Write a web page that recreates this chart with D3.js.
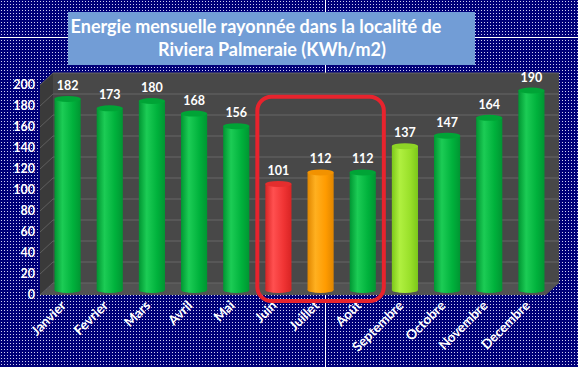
<!DOCTYPE html>
<html><head><meta charset="utf-8">
<script src="https://cdn.jsdelivr.net/npm/d3@7"></script>
<style>html,body{margin:0;padding:0;background:#000080;}svg{display:block;}</style>
</head><body>
<svg id="chart" width="578" height="367"></svg>
<script>
const months = ["Janvier","Fevrier","Mars","Avril","Mai","Juin","Juillet","Août","Septembre","Octobre","Novembre","Decembre"];
const energy = [182,173,180,168,156,101,112,112,137,147,164,190];
const barColors = ["green","green","green","green","green","red","orange","green","lime","green","green","green"];
const yTicks = [0,20,40,60,80,100,120,140,160,180,200];
const titleLines = ["Energie mensuelle rayonnée dans la localité de","Riviera Palmeraie (KWh/m2)"];
const highlighted = ["Juin","Juillet","Août"];

const W = 578, H = 367;
const svg = d3.select("#chart");
const defs = svg.append("defs");
const FONT = "Lato, 'Open Sans', sans-serif";

// background pattern
const pat = defs.append("pattern").attr("id","dots").attr("width",3).attr("height",3).attr("patternUnits","userSpaceOnUse");
pat.append("rect").attr("width",3).attr("height",3).attr("fill","#000078");
pat.append("rect").attr("x",1).attr("y",1).attr("width",1).attr("height",1).attr("fill","#d0d0f4");
svg.append("rect").attr("width",W).attr("height",H).attr("fill","url(#dots)");
svg.append("line").attr("x1",0).attr("x2",W).attr("y1",37.5).attr("y2",37.5).attr("stroke","#ffffff").attr("stroke-width",1);
svg.append("line").attr("x1",325.5).attr("x2",325.5).attr("y1",0).attr("y2",H).attr("stroke","#ffffff").attr("stroke-width",1);

// scales (mid-depth)
const x = d3.scaleBand().domain(months).range([46.5,552.5]).paddingInner(0.38).paddingOuter(0.19);
const y = d3.scaleLinear().domain([0,200]).range([290,80]);
const dBack = {dx:6.5, dy:-7}, dFront = {dx:-6.5, dy:5};
const x0 = 46.5, x1 = 552.5;

// walls
const g = svg.append("g");
const yb = v => y(v)+dBack.dy, yf = v => y(v)+dFront.dy;
const xbL = x0+dBack.dx, xbR = x1+dBack.dx, xfL = x0+dFront.dx, xfR = x1+dFront.dx;
g.append("rect").attr("x",xbL).attr("y",yb(200)).attr("width",xbR-xbL).attr("height",yb(0)-yb(200)).attr("fill","#484848");
g.append("path").attr("d",`M${xfL},${yf(200)}L${xbL},${yb(200)}L${xbL},${yb(0)}L${xfL},${yf(0)}Z`).attr("fill","#3a3a3a");
g.append("path").attr("d",`M${xfL},${yf(0)}L${xbL},${yb(0)}L${xbR},${yb(0)}L${xfR},${yf(0)}Z`).attr("fill","#525252");
yTicks.forEach(t=>{
  g.append("line").attr("x1",xbL).attr("x2",xbR).attr("y1",yb(t)).attr("y2",yb(t)).attr("stroke","#666").attr("stroke-width",1);
  g.append("line").attr("x1",xfL).attr("x2",xbL).attr("y1",yf(t)).attr("y2",yb(t)).attr("stroke","#5e5e5e").attr("stroke-width",1);
});

// y labels
g.selectAll(".ylab").data(yTicks).join("text").attr("class","ylab")
  .attr("x",35).attr("y",d=>yf(d)).attr("dy","0.35em").attr("text-anchor","end")
  .attr("fill","#fff").attr("font-family",FONT).attr("font-weight","bold").attr("font-size",12.5).text(d=>d);

// gradients
const palette = {
  green:{dark:"#009632",mid:"#00b23c",light:"#1ccc55",top:"#00a436"},
  red:{dark:"#d82424",mid:"#f03434",light:"#ff5050",top:"#e42e2e"},
  orange:{dark:"#e08600",mid:"#ff9b00",light:"#ffb020",top:"#f29200"},
  lime:{dark:"#7cc81a",mid:"#99e02a",light:"#b0f040",top:"#8ed426"}
};
Object.entries(palette).forEach(([k,c])=>{
  const lg = defs.append("linearGradient").attr("id","g_"+k).attr("x1","0%").attr("x2","100%");
  lg.append("stop").attr("offset","0%").attr("stop-color",c.dark);
  lg.append("stop").attr("offset","30%").attr("stop-color",c.light);
  lg.append("stop").attr("offset","70%").attr("stop-color",c.mid);
  lg.append("stop").attr("offset","100%").attr("stop-color",c.dark);
});

const bw = x.bandwidth(), ry = 3;
const bars = g.selectAll(".bar").data(months.map((m,i)=>({m,v:energy[i],c:barColors[i]}))).join("g");
bars.append("ellipse").attr("cx",d=>x(d.m)+bw/2).attr("cy",y(0)).attr("rx",bw/2).attr("ry",ry).attr("fill",d=>`url(#g_${d.c})`);
bars.append("rect").attr("x",d=>x(d.m)).attr("y",d=>y(d.v)).attr("width",bw).attr("height",d=>y(0)-y(d.v)).attr("fill",d=>`url(#g_${d.c})`);
bars.append("ellipse").attr("cx",d=>x(d.m)+bw/2).attr("cy",d=>y(d.v)).attr("rx",bw/2).attr("ry",ry).attr("fill",d=>palette[d.c].top);
bars.append("text").attr("x",d=>x(d.m)+bw/2).attr("y",d=>y(d.v)-9).attr("text-anchor","middle")
  .attr("fill","#fff").attr("font-family",FONT).attr("font-weight","bold").attr("font-size",12.5).text(d=>d.v);

// x labels
g.selectAll(".xlab").data(months).join("text").attr("class","xlab")
  .attr("transform",d=>`translate(${x(d)+bw/2-4},${yf(0)+8}) rotate(-45)`)
  .attr("text-anchor","end").attr("dy","0.35em")
  .attr("fill","#fff").attr("font-family",FONT).attr("font-weight","bold").attr("font-size",13.5).text(d=>d);

// highlight box
const step = x.step();
const hx0 = x(highlighted[0]) + bw/2 - step/2, hx1 = x(highlighted[highlighted.length-1]) + bw/2 + step/2;
svg.append("rect").attr("x",hx0).attr("y",y(184)).attr("width",hx1-hx0).attr("height",y(0)+11-y(184))
  .attr("rx",14).attr("fill","none").attr("stroke","#e8232d").attr("stroke-width",4);

// title
svg.append("rect").attr("x",68).attr("y",12).attr("width",407).attr("height",53).attr("fill","#729dd6");
const tl = svg.append("g").attr("fill","#fff").attr("font-family",FONT).attr("font-weight","bold").attr("font-size",18);
tl.append("text").attr("x",256).attr("y",33).attr("text-anchor","middle").text(titleLines[0]);
tl.append("text").attr("x",272).attr("y",56).attr("text-anchor","middle").text(titleLines[1]);
</script>
</body></html>
